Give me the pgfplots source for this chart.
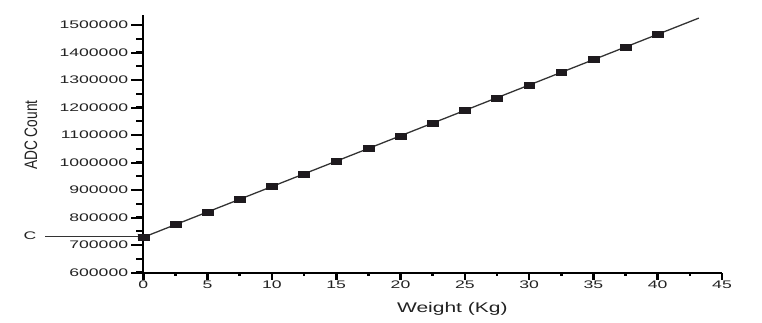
\documentclass[border=0pt]{standalone}
\usepackage{pgfplots}
\pgfplotsset{compat=1.18}
\usepackage{fontspec}
\setmainfont{Liberation Sans}
\newfontfamily\tickfont[FakeStretch=1.6]{Liberation Sans}
\newfontfamily\xlabfont[FakeStretch=1.5]{Liberation Sans}
\newfontfamily\ylabfont[FakeStretch=0.76]{Liberation Sans}
\definecolor{txt}{HTML}{222222}
\definecolor{mk}{HTML}{1E1A1E}
\begin{document}
\begin{tikzpicture}
\begin{axis}[
  at={(0,0)}, anchor=south west,
  scale only axis,
  width=578.7pt, height=257.6pt,
  xmin=0, xmax=45, ymin=600000, ymax=1536000,
  axis x line=bottom, axis y line=left,
  axis line style={-, line width=2pt, black},
  clip=false,
  xtick={0,5,...,45},
  ytick={600000,700000,...,1500000},
  minor x tick num=1,
  tick align=outside,
  major tick length=7pt,
  minor tick length=3pt,
  tick style={black, line width=2.6pt},
  scaled y ticks=false,
  /pgf/number format/assume math mode=true,
  /pgf/number format/fixed,
  /pgf/number format/precision=0,
  /pgf/number format/1000 sep={},
  ticklabel style={font=\tickfont\fontsize{11}{13}\selectfont, text=txt},
  yticklabel style={inner sep=1pt, xshift=-7pt},
  xticklabel style={inner sep=1pt},
  xlabel={Weight (Kg)},
  ylabel={ADC Count},
  xlabel style={font=\xlabfont\fontsize{14}{16}\selectfont, text=txt, at={(axis description cs:0.534,-0.1526)}, anchor=base},
  ylabel style={font=\ylabfont\fontsize{18}{20}\selectfont, text=txt, at={(axis description cs:-0.194,0.534)}, anchor=center},
]
\addplot[line width=1.3pt, color=black!80, no marks] coordinates {(0,728600) (43.2,1525200)};
\addplot[only marks, mark=square*, mark size=3pt, mark options={xscale=1.8, fill=mk, draw=mk}] coordinates {
(0,728600) (2.5,774700) (5,820800) (7.5,866900) (10,913000) (12.5,959100)
(15,1005200) (17.5,1051300) (20,1097400) (22.5,1143500) (25,1189600)
(27.5,1235700) (30,1281800) (32.5,1327900) (35,1374000) (37.5,1420100)
(40,1466200)};
\draw[-stealth, line width=1pt, black!80] (axis cs:-7.64,733000) -- (axis cs:-0.1,733000);
\node[anchor=east, inner sep=0pt, font=\tickfont\fontsize{11}{13}\selectfont, text=txt] at (axis cs:-8.3,733000) {C};
\end{axis}
% y-axis tick marks: 0.275214pt per 1000 counts above 600000
\foreach \k in {0,100,...,900} {
  \draw[black, line width=2pt] (0,\k*0.275214pt) -- (-12pt,\k*0.275214pt);
}
\foreach \k in {50,150,...,850} {
  \draw[black, line width=2pt] (0,\k*0.275214pt) -- (-7pt,\k*0.275214pt);
}
\pgfresetboundingbox
\path (-143.3pt,-49.3pt) rectangle (618.7pt,272.7pt);
\end{tikzpicture}
\end{document}
